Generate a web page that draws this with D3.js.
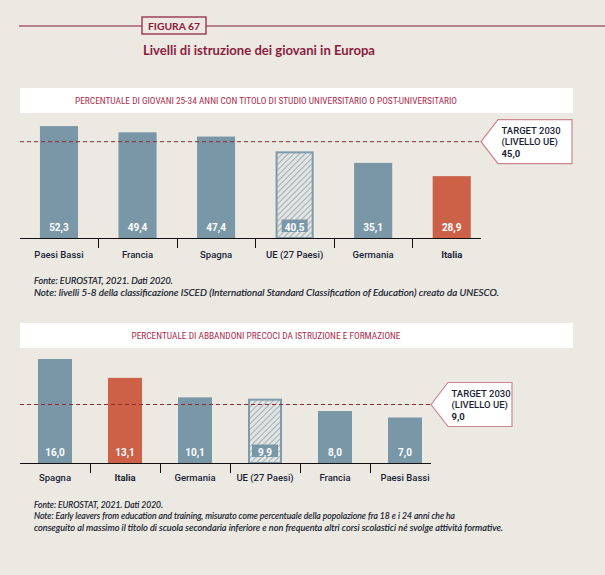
<!DOCTYPE html>
<html><head><meta charset="utf-8">
<script src="https://cdn.jsdelivr.net/npm/d3@7"></script>
<style>
html,body{margin:0;padding:0;background:#ebe9e2;}
svg{display:block;}
</style></head>
<body>
<svg id="c" width="605" height="575"></svg>
<script>
// ---- data ----
const cat1 = ["Paesi Bassi","Francia","Spagna","UE (27 Paesi)","Germania","Italia"];
const val1 = [52.3, 49.4, 47.4, 40.5, 35.1, 28.9];
const lab1 = ["52,3","49,4","47,4","40,5","35,1","28,9"];
const target1 = 45.0, targetLab1 = "45,0";

const cat2 = ["Spagna","Italia","Germania","UE (27 Paesi)","Francia","Paesi Bassi"];
const val2 = [16.0, 13.1, 10.1, 9.9, 8.0, 7.0];
const lab2 = ["16,0","13,1","10,1","9,9","8,0","7,0"];
const target2 = 9.0, targetLab2 = "9,0";

const figLabel = "FIGURA 67";
const title = "Livelli di istruzione dei giovani in Europa";
const head1 = "PERCENTUALE DI GIOVANI 25-34 ANNI CON TITOLO DI STUDIO UNIVERSITARIO O POST-UNIVERSITARIO";
const head2 = "PERCENTUALE DI ABBANDONI PRECOCI DA ISTRUZIONE E FORMAZIONE";
const notes1 = ["Fonte: EUROSTAT, 2021. Dati 2020.",
  "Note: livelli 5-8 della classificazione ISCED (International Standard Classification of Education) creato da UNESCO."];
const notes2 = ["Fonte: EUROSTAT, 2021. Dati 2020.",
  "Note: Early leavers from education and training, misurato come percentuale della popolazione fra 18 e i 24 anni che ha",
  "conseguito al massimo il titolo di scuola secondaria inferiore e non frequenta altri corsi scolastici né svolge attività formative."];

// ---- styles ----
const BG = "#ebe9e2", BAR = "#7a97a8", ITA = "#cd6148", CRIM = "#8c1838",
      HEAD = "#ac2c4c", DASH = "#8e2a2e", TXT = "#1c1f36";
const COND = "'Liberation Sans Narrow','Roboto Condensed','Roboto',sans-serif";
const SANS = "Roboto,'Noto Sans',sans-serif";

const svg = d3.select("#c");
svg.append("rect").attr("width",605).attr("height",575).attr("fill",BG);

const defs = svg.append("defs");
const pat = defs.append("pattern").attr("id","hatch").attr("patternUnits","userSpaceOnUse")
  .attr("width",4).attr("height",4).attr("patternTransform","rotate(45)");
pat.append("rect").attr("width",4).attr("height",4).attr("fill","#e3e3df");
pat.append("line").attr("x1",0).attr("y1",0).attr("x2",0).attr("y2",4)
  .attr("stroke","#87a0b0").attr("stroke-width",1.5);

// ---- header ----
svg.append("line").attr("x1",19).attr("x2",605).attr("y1",26).attr("y2",26)
  .attr("stroke",CRIM).attr("stroke-width",1.2);
svg.append("rect").attr("x",142).attr("y",17).attr("width",64).attr("height",17)
  .attr("fill",BG).attr("stroke",CRIM).attr("stroke-width",1.2);
svg.append("text").attr("x",174).attr("y",29.5).attr("text-anchor","middle")
  .attr("font-family","Lato,'Open Sans',sans-serif").attr("font-weight",700).attr("font-size",10.3)
  .attr("fill",CRIM).attr("textLength",52).attr("lengthAdjust","spacingAndGlyphs").text(figLabel);
svg.append("text").attr("x",143).attr("y",55)
  .attr("font-family","Lato,'Open Sans',sans-serif").attr("font-weight",700).attr("font-size",12.5)
  .attr("fill","#8a1c40").attr("textLength",232).attr("lengthAdjust","spacingAndGlyphs").text(title);

function panel(cfg){
  const g = svg.append("g");
  // header band
  g.append("rect").attr("x",20).attr("y",cfg.headY).attr("width",553).attr("height",25).attr("fill","#fff");
  g.append("text").attr("x",266).attr("y",cfg.headY+16).attr("text-anchor","middle")
    .attr("font-family",COND).attr("font-size",9.5).attr("fill",HEAD)
    .attr("textLength",cfg.headW).attr("lengthAdjust","spacingAndGlyphs").text(cfg.head);

  const x = d3.scaleBand().domain(cfg.cats).range(cfg.xr).padding(0);
  const y = d3.scaleLinear().domain([0,cfg.ymax]).range([cfg.base, cfg.ytop]);
  const bw = x.bandwidth()*cfg.barFrac;

  cfg.cats.forEach((c,i)=>{
    const v = cfg.vals[i];
    const cx = x(c) + x.bandwidth()/2;
    const isUE = c.startsWith("UE");
    const col = c==="Italia" ? ITA : BAR;
    if(isUE){
      g.append("rect").attr("x",cx-bw/2+1).attr("y",y(v)+1).attr("width",bw-2).attr("height",cfg.base-y(v)-1)
        .attr("fill","url(#hatch)").attr("stroke","#7f9bab").attr("stroke-width",2);
      g.append("rect").attr("x",cx-13).attr("y",cfg.valY-7.5).attr("width",26).attr("height",12.5).attr("fill",BAR);
    } else {
      g.append("rect").attr("x",cx-bw/2).attr("y",y(v)).attr("width",bw).attr("height",cfg.base-y(v)).attr("fill",col);
    }
    g.append("text").attr("x",cx).attr("y",cfg.valY+3.5).attr("text-anchor","middle")
      .attr("font-family",SANS).attr("font-weight",700).attr("font-size",10).attr("fill","#fff").text(cfg.labs[i]);
  });

  // target dashed line
  const ty = y(cfg.target);
  g.append("line").attr("x1",20).attr("x2",cfg.axisEnd).attr("y1",ty).attr("y2",ty)
    .attr("stroke",DASH).attr("stroke-width",1).attr("stroke-dasharray","4,3");

  // axis
  const ax = d3.axisBottom(x).tickSize(0).tickFormat(d=>d);
  const axg = g.append("g").attr("transform",`translate(0,${cfg.base})`).call(ax);
  axg.select(".domain").remove();
  axg.selectAll("text").attr("dy",0).attr("y",cfg.labY-cfg.base+3.5)
    .attr("font-family",SANS).attr("font-weight",d=>d==="Italia"?700:500).attr("font-size",9.5).attr("fill",TXT);
  g.append("line").attr("x1",20).attr("x2",cfg.axisEnd).attr("y1",cfg.base+0.5).attr("y2",cfg.base+0.5)
    .attr("stroke","#111").attr("stroke-width",1.2);
  cfg.cats.slice(1).forEach(c=>{
    const xx = Math.round(x(c))+0.5;
    g.append("line").attr("x1",xx).attr("x2",xx).attr("y1",cfg.base).attr("y2",cfg.base+10)
      .attr("stroke","#111").attr("stroke-width",1);
  });

  // callout
  const px = cfg.axisEnd, bx = px+17, bx2 = bx+cfg.boxW, top = ty-22, bot = ty+22;
  g.append("path").attr("d",`M${px},${ty} L${bx},${top} L${bx2},${top} L${bx2},${bot} L${bx},${bot} Z`)
    .attr("fill","#fff").attr("stroke","#c98790").attr("stroke-width",1.2);
  const tl = ["TARGET 2030","(LIVELLO UE)",cfg.targetLab];
  tl.forEach((t,i)=>{
    g.append("text").attr("x",bx+3.5).attr("y",ty-8+i*11.5)
      .attr("font-family",SANS).attr("font-weight",i===2?700:500).attr("font-size",9.5).attr("fill",TXT).text(t);
  });

  // notes
  cfg.notes.forEach((t,i)=>{
    const tx = g.append("text").attr("x",34).attr("y",cfg.noteY+i*cfg.noteDy)
      .attr("font-family","Lato,'Open Sans',sans-serif").attr("font-style","italic").attr("font-size",8.6)
      .attr("fill","#15182c").attr("stroke","#15182c").attr("stroke-width",0.15).text(t);
    if(cfg.noteW[i]) tx.attr("textLength",cfg.noteW[i]).attr("lengthAdjust","spacingAndGlyphs");
  });
}

panel({headY:88, head:head1, headW:382, cats:cat1, vals:val1, labs:lab1, xr:[19.7,491],
  ymax:60, base:238, ytop:238-60*2.14, barFrac:0.485, valY:227, labY:254, target:target1,
  targetLab:targetLab1, axisEnd:481, boxW:74, notes:notes1, noteY:284, noteDy:12, noteW:[139,465]});

panel({headY:323, head:head2, headW:269, cats:cat2, vals:val2, labs:lab2, xr:[20,440],
  ymax:20, base:463, ytop:463-20*6.5, barFrac:0.486, valY:452, labY:477, target:target2,
  targetLab:targetLab2, axisEnd:431, boxW:64, notes:notes2, noteY:508, noteDy:11.3, noteW:[129,421,469]});
</script>
</body></html>
